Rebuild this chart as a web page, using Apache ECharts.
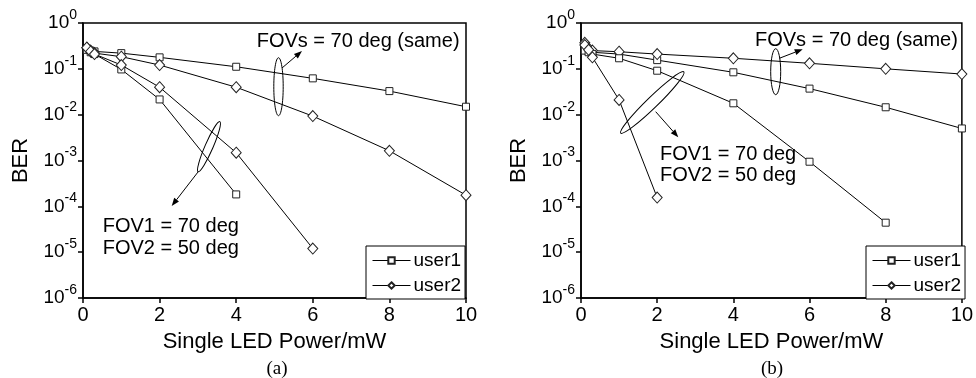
<!DOCTYPE html>
<html lang="en">
  <head>
    <meta charset="UTF-8" />
    <title>BER vs LED power</title>
    <style>
      html, body { margin: 0; padding: 0; background: #fff; }
      #main { width: 976px; height: 378px; }
    </style>
  </head>
  <body>
    <div id="main"></div>
    <script src="https://cdn.jsdelivr.net/npm/echarts@6/dist/echarts.min.js"></script>
    <script>
      const myChart = echarts.init(document.getElementById('main'))
      const FONT = 'Liberation Sans, Arial, sans-serif'

      // x 坐标 (mW)
      var xLong = [0.1, 0.2, 0.3, 1, 2, 4, 6, 8, 10]
      var xTo4 = [0.1, 0.2, 0.3, 1, 2, 4]
      var xTo6 = [0.1, 0.2, 0.3, 1, 2, 4, 6]
      var xTo8 = [0.1, 0.2, 0.3, 1, 2, 4, 6, 8]
      var xTo2 = [0.1, 0.2, 0.3, 1, 2]
      var xTicks = [0, 2, 4, 6, 8, 10]
      var yTicks = [1e-6, 1e-5, 1e-4, 1e-3, 1e-2, 1e-1, 1]

      // (a)
      var aSameUser1 = [0.27, 0.25, 0.24, 0.22, 0.178, 0.111, 0.062, 0.0327, 0.0149]
      var aSameUser2 = [0.29, 0.25, 0.22, 0.184, 0.121, 0.0397, 0.0093, 0.00163, 1.75e-4]
      var aDiffUser1 = [0.26, 0.23, 0.21, 0.097, 0.0215, 1.82e-4]
      var aDiffUser2 = [0.29, 0.24, 0.21, 0.121, 0.0397, 0.00148, 1.2e-5]
      // (b)
      var bSameUser1 = [0.26, 0.24, 0.23, 0.21, 0.155, 0.084, 0.037, 0.0145, 0.005]
      var bSameUser2 = [0.37, 0.28, 0.25, 0.236, 0.21, 0.17, 0.132, 0.1, 0.077]
      var bDiffUser1 = [0.25, 0.23, 0.21, 0.17, 0.091, 0.0177, 9.4e-4, 4.4e-5]
      var bDiffUser2 = [0.33, 0.26, 0.178, 0.021, 1.55e-4]

      function zip(xs, ys) {
        return xs.map(function (x, i) { return [x, ys[i]] })
      }

      function mkSeries(name, idx, xs, ys) {
        var isDiamond = name === 'user2'
        return {
          name: name,
          type: 'line',
          xAxisIndex: idx,
          yAxisIndex: idx,
          data: zip(xs, ys),
          symbol: isDiamond ? 'diamond' : 'rect',
          symbolSize: isDiamond ? [10, 11] : 7,
          showAllSymbol: true,
          lineStyle: { color: '#000', width: 1 },
          itemStyle: { color: '#fff', borderColor: '#222', borderWidth: 1 },
          emphasis: { disabled: true },
          animation: false,
          z: 3
        }
      }

      function mkX(idx) {
        return {
          type: 'value',
          gridIndex: idx,
          min: xTicks[0],
          max: xTicks[xTicks.length - 1],
          interval: 2,
          name: 'Single LED Power/mW',
          nameLocation: 'middle',
          nameGap: 33,
          nameTextStyle: { fontFamily: FONT, fontSize: 22, color: '#000' },
          axisLine: { lineStyle: { color: '#000', width: 1.5 } },
          axisTick: { show: true, length: 5, lineStyle: { color: '#000', width: 1.5 } },
          axisLabel: { fontFamily: FONT, fontSize: 20, color: '#000', margin: 7 },
          splitLine: { show: false }
        }
      }

      function mkY(idx) {
        return {
          type: 'log',
          logBase: 10,
          gridIndex: idx,
          min: yTicks[0],
          max: yTicks[yTicks.length - 1],
          name: 'BER',
          nameLocation: 'middle',
          nameGap: 51,
          nameTextStyle: { fontFamily: FONT, fontSize: 22, color: '#000' },
          axisLine: { lineStyle: { color: '#000', width: 1.5 } },
          axisTick: { show: true, length: 5, lineStyle: { color: '#000', width: 1.5 } },
          axisLabel: {
            margin: 6,
            formatter: function (v) {
              var e = Math.round(Math.log10(v))
              return '{b|10}{s|' + e + '}'
            },
            rich: {
              b: { fontFamily: FONT, fontSize: 19, color: '#000' },
              s: { fontFamily: FONT, fontSize: 14, color: '#000', padding: [0, 0, 16, 0] }
            }
          },
          splitLine: { show: false }
        }
      }

      function mkLegend(left) {
        return {
          data: ['user1', 'user2'],
          orient: 'vertical',
          left: left,
          top: 246,
          itemWidth: 38,
          itemHeight: 8,
          itemGap: 6,
          padding: [5, 4, 4, 6],
          borderColor: '#000',
          borderWidth: 1,
          backgroundColor: '#fff',
          selectedMode: false,
          lineStyle: { width: 1 },
          textStyle: { fontFamily: FONT, fontSize: 19, color: '#000', padding: [0, 0, 0, -2] }
        }
      }

      // 标注: 椭圆 + 箭头 + 文字
      function ellipse(cx, cy, rx, ry, rot) {
        return {
          type: 'ellipse',
          x: cx, y: cy, rotation: rot || 0,
          shape: { cx: 0, cy: 0, rx: rx, ry: ry },
          style: { fill: 'none', stroke: '#000', lineWidth: 1 },
          z: 10
        }
      }
      function arrow(x1, y1, x2, y2) {
        var a = Math.atan2(y2 - y1, x2 - x1)
        var L = 8, W = 3
        var bx = x2 - L * Math.cos(a), by = y2 - L * Math.sin(a)
        return [
          { type: 'line', shape: { x1: x1, y1: y1, x2: bx, y2: by }, style: { stroke: '#000', lineWidth: 1 }, z: 10 },
          {
            type: 'polygon',
            shape: { points: [[x2, y2], [bx - W * Math.sin(a), by + W * Math.cos(a)], [bx + W * Math.sin(a), by - W * Math.cos(a)]] },
            style: { fill: '#000' },
            z: 10
          }
        ]
      }
      function label(x, y, text, opts) {
        opts = opts || {}
        return {
          type: 'text', x: x, y: y, z: 10,
          style: {
            text: text,
            font: (opts.size || 20) + 'px ' + (opts.family || FONT),
            fill: '#000',
            align: opts.align || 'left',
            verticalAlign: 'middle'
          }
        }
      }

      var graphics = [].concat(
        ellipse(278.5, 86.7, 4.7, 29),
        arrow(282, 68, 302, 51),
        label(256.7, 41.7, 'FOVs = 70 deg (same)'),
        ellipse(209, 146.7, 4, 27.3, -0.41),
        arrow(198, 172, 171.7, 206),
        label(102.7, 226.7, 'FOV1 = 70 deg'),
        label(102.7, 248.3, 'FOV2 = 50 deg'),
        ellipse(775.7, 71.7, 5, 23),
        arrow(779.3, 58.3, 802.7, 49.3),
        label(755, 40, 'FOVs = 70 deg (same)'),
        ellipse(652.3, 102.5, 5.5, 44, -0.8),
        arrow(655.7, 111.7, 678.3, 137.3),
        label(660, 154, 'FOV1 = 70 deg'),
        label(660, 175, 'FOV2 = 50 deg'),
        label(277, 369, '(a)', { size: 19, family: 'Liberation Serif, Times New Roman, serif', align: 'center' }),
        label(772, 369, '(b)', { size: 19, family: 'Liberation Serif, Times New Roman, serif', align: 'center' })
      )

      option = {
        backgroundColor: '#fff',
        animation: false,
        grid: [
          { left: 83, top: 23, width: 383, height: 275, show: true, borderColor: '#000', borderWidth: 1.5, backgroundColor: 'transparent' },
          { left: 581, top: 23, width: 382, height: 275, show: true, borderColor: '#000', borderWidth: 1.5, backgroundColor: 'transparent' }
        ],
        xAxis: [mkX(0), mkX(1)],
        yAxis: [mkY(0), mkY(1)],
        legend: [mkLegend(366), mkLegend(866)],
        series: [
          mkSeries('user1', 0, xLong, aSameUser1),
          mkSeries('user2', 0, xLong, aSameUser2),
          mkSeries('user1', 0, xTo4, aDiffUser1),
          mkSeries('user2', 0, xTo6, aDiffUser2),
          mkSeries('user1', 1, xLong, bSameUser1),
          mkSeries('user2', 1, xLong, bSameUser2),
          mkSeries('user1', 1, xTo8, bDiffUser1),
          mkSeries('user2', 1, xTo2, bDiffUser2)
        ],
        graphic: graphics
      }

      myChart.setOption(option)
    </script>
  </body>
</html>
